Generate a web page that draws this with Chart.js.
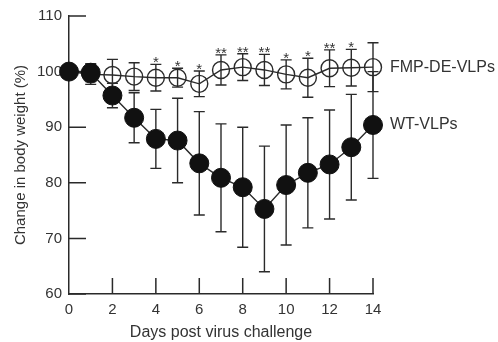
<!DOCTYPE html>
<html>
<head>
<meta charset="utf-8">
<script src="https://cdn.jsdelivr.net/npm/chart.js@4.4.0/dist/chart.umd.min.js"></script>
<style>
  html, body { margin: 0; padding: 0; background: #fff; }
  #wrap { width: 498px; height: 342px; }
</style>
</head>
<body>
<div id="wrap"><canvas id="weightChart"></canvas></div>
<script>
// Veriler
const days = [0, 1, 2, 3, 4, 5, 6, 7, 8, 9, 10, 11, 12, 13, 14];
const wtMean = [100, 99.8, 95.7, 91.7, 87.9, 87.6, 83.5, 80.9, 79.2, 75.3, 79.6, 81.8, 83.3, 86.4, 90.4];
const wtErr = [0, 1.6, 2.2, 4.5, 5.3, 7.6, 9.3, 9.7, 10.8, 11.3, 10.8, 9.9, 9.8, 9.5, 9.6];
const fmpMean = [100, 99.5, 99.4, 99.1, 98.9, 98.9, 97.8, 100.3, 100.8, 100.3, 99.5, 98.9, 100.6, 100.7, 100.8];
const fmpErr = [0, 1.8, 2.8, 2.5, 2.4, 1.7, 2.3, 2.7, 2.4, 2.8, 2.6, 3.5, 3.3, 3.3, 4.4];
const sigMarks = ['', '', '', '', '*', '*', '*', '**', '**', '**', '*', '*', '**', '*', ''];
const seriesNames = ['WT-VLPs', 'FMP-DE-VLPs'];
const xTicks = [0, 2, 4, 6, 8, 10, 12, 14];
const yTicks = [60, 70, 80, 90, 100, 110];

const ink = '#2a2a2a';
const textColor = '#333';
const fontFamily = '"Liberation Sans", Arial, sans-serif';

// Hata çubukları, içe dönük tikler, yıldızlar ve seri etiketleri
const errorBarPlugin = {
    id: 'errorBars',
    beforeDatasetsDraw(chart) {
        const { ctx, scales: { x, y } } = chart;
        const sets = [[fmpMean, fmpErr], [wtMean, wtErr]];
        ctx.save();
        ctx.strokeStyle = ink;
        ctx.lineWidth = 1.4;
        sets.forEach(([mean, err]) => {
            days.forEach((d, i) => {
                if (!err[i]) return;
                const px = x.getPixelForValue(d);
                const top = y.getPixelForValue(mean[i] + err[i]);
                const bot = y.getPixelForValue(mean[i] - err[i]);
                ctx.beginPath();
                ctx.moveTo(px, top); ctx.lineTo(px, bot);
                ctx.moveTo(px - 5.5, top); ctx.lineTo(px + 5.5, top);
                ctx.moveTo(px - 5.5, bot); ctx.lineTo(px + 5.5, bot);
                ctx.stroke();
            });
        });
        // içe dönük tikler
        const area = chart.chartArea;
        ctx.lineWidth = 1.5;
        ctx.beginPath();
        yTicks.forEach(v => {
            const py = y.getPixelForValue(v);
            ctx.moveTo(area.left, py); ctx.lineTo(area.left + 17, py);
        });
        xTicks.forEach(v => {
            if (v === 0) return;
            const px = x.getPixelForValue(v);
            ctx.moveTo(px, area.bottom); ctx.lineTo(px, area.bottom - 16);
        });
        ctx.stroke();
        ctx.restore();
    },
    afterDatasetsDraw(chart) {
        const { ctx, scales: { x, y } } = chart;
        ctx.save();
        ctx.fillStyle = textColor;
        ctx.font = '15px ' + fontFamily;
        ctx.textAlign = 'center';
        ctx.textBaseline = 'alphabetic';
        days.forEach((d, i) => {
            if (!sigMarks[i]) return;
            const px = x.getPixelForValue(d);
            const py = y.getPixelForValue(fmpMean[i] + fmpErr[i]);
            ctx.fillText(sigMarks[i], px, py + 3);
        });
        // seri etiketleri
        ctx.font = '16px ' + fontFamily;
        ctx.textAlign = 'left';
        ctx.textBaseline = 'middle';
        const last = days.length - 1;
        const lx = x.getPixelForValue(days[last]) + 17;
        ctx.fillText(seriesNames[1], lx, y.getPixelForValue(fmpMean[last]));
        ctx.fillText(seriesNames[0], lx, y.getPixelForValue(wtMean[last]));
        ctx.restore();
    }
};

const toPoints = arr => days.map((d, i) => ({ x: d, y: arr[i] }));

const weightChart = new Chart(
    document.getElementById('weightChart'),
    {
        type: 'line',
        data: {
            datasets: [
                {
                    label: seriesNames[0],
                    data: toPoints(wtMean),
                    borderColor: ink,
                    borderWidth: 1.4,
                    pointRadius: 9.5,
                    pointBackgroundColor: '#111',
                    pointBorderColor: '#111',
                    pointBorderWidth: 1,
                    tension: 0,
                    clip: false,
                    order: 1
                },
                {
                    label: seriesNames[1],
                    data: toPoints(fmpMean),
                    borderColor: ink,
                    borderWidth: 1.4,
                    pointRadius: 8.5,
                    pointBackgroundColor: 'rgba(0,0,0,0)',
                    pointBorderColor: ink,
                    pointBorderWidth: 1.4,
                    tension: 0,
                    clip: false,
                    order: 2
                }
            ]
        },
        options: {
            responsive: true,
            maintainAspectRatio: false,
            animation: false,
            layout: { padding: { top: 14, right: 125, left: 0, bottom: 0 } },
            plugins: {
                legend: { display: false },
                tooltip: { enabled: false }
            },
            scales: {
                x: {
                    type: 'linear',
                    min: 0,
                    max: 14,
                    afterBuildTicks: scale => { scale.ticks = xTicks.map(v => ({ value: v })); },
                    afterFit: scale => { scale.height = 48; },
                    grid: { display: false, drawTicks: false },
                    border: { display: true, color: ink, width: 1.5 },
                    ticks: {
                        padding: 7,
                        color: textColor,
                        font: { family: fontFamily, size: 15 }
                    },
                    title: {
                        display: true,
                        text: 'Days post virus challenge',
                        color: textColor,
                        padding: { top: 0, bottom: 0 },
                        font: { family: fontFamily, size: 16 }
                    }
                },
                y: {
                    type: 'linear',
                    min: 60,
                    max: 110,
                    afterBuildTicks: scale => { scale.ticks = yTicks.map(v => ({ value: v })); },
                    afterFit: scale => { scale.width = 69; },
                    grid: { display: false, drawTicks: false },
                    border: { display: true, color: ink, width: 1.5 },
                    ticks: {
                        padding: 7,
                        color: textColor,
                        font: { family: fontFamily, size: 15 }
                    },
                    title: {
                        display: true,
                        text: 'Change in body weight (%)',
                        color: textColor,
                        padding: { top: 12, bottom: 0 },
                        font: { family: fontFamily, size: 15 }
                    }
                }
            }
        },
        plugins: [errorBarPlugin]
    }
);
</script>
</body>
</html>
